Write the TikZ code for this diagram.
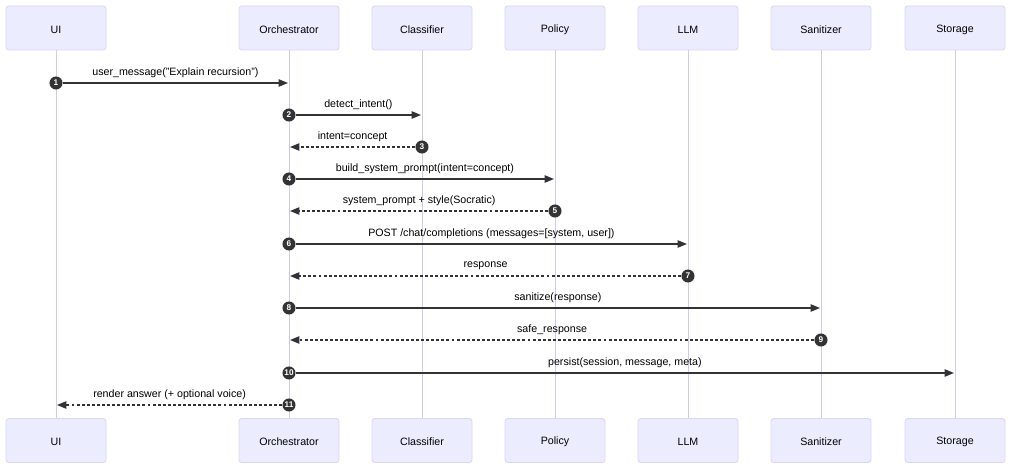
\documentclass[tikz,border=0pt]{standalone}
\usepackage{fontspec}
\setmainfont{Liberation Sans}
\usetikzlibrary{arrows.meta}
\definecolor{actfill}{HTML}{ECECFF}
\definecolor{actdraw}{HTML}{DCD5F5}
\definecolor{lifecol}{HTML}{D3C8F0}
\definecolor{msgcol}{HTML}{333333}
\begin{document}
\begin{tikzpicture}[x=0.75pt,y=-0.75pt,
  actor/.style={draw=actdraw,fill=actfill,rounded corners=2pt,line width=0.6pt,
    minimum width=75pt,minimum height=33pt,inner sep=0pt,
    font=\fontsize{8}{10}\selectfont,text=black},
  actortext/.style={font=\fontsize{8}{10}\selectfont,text=black,inner sep=0pt},
  lifeline/.style={draw=lifecol,line width=0.75pt},
  badge/.style={circle,fill=msgcol,text=white,inner sep=0pt,minimum size=9.8pt,
    font=\fontsize{6.2}{6}\selectfont\bfseries},
  sync/.style={draw=msgcol,line width=1pt,-{Triangle[length=7pt,width=5.5pt]}},
  reply/.style={sync,dash pattern=on 2.2pt off 1.6pt},
  lbl/.style={font=\fontsize{8}{10}\selectfont,text=black,midway,yshift=8pt,inner sep=0pt}
]
\useasboundingbox (0,0) rectangle (1010,467);
% actors
\foreach \n/\x/\t in {ui/56/UI,or/289/Orchestrator,cl/422/Classifier,po/555/Policy,ll/688/LLM,sa/821/Sanitizer,st/955/Storage}{
  \node[actor] (\n T) at (\x,28) {};
  \node[actortext] at (\x,29.5) {\t};
  \node[actor] (\n B) at (\x,440.5) {};
  \node[actortext] at (\x,442) {\t};
  \draw[lifeline] (\n T) -- (\n B);
}
% messages
\node[badge] (b1) at (56,83) {1};
\coordinate (e1) at (288,83);
\draw[sync] (b1) -- node[lbl] {user\_message("Explain recursion")} (e1);

\node[badge] (b2) at (289,115) {2};
\coordinate (e2) at (421,115);
\draw[sync] (b2) -- node[lbl] {detect\_intent()} (e2);

\node[badge] (b3) at (422,147) {3};
\coordinate (e3) at (290,147);
\draw[reply] (b3) -- node[lbl] {intent=concept} (e3);

\node[badge] (b4) at (289,179) {4};
\coordinate (e4) at (554,179);
\draw[sync] (b4) -- node[lbl] {build\_system\_prompt(intent=concept)} (e4);

\node[badge] (b5) at (555,211) {5};
\coordinate (e5) at (290,211);
\draw[reply] (b5) -- node[lbl] {system\_prompt + style(Socratic)} (e5);

\node[badge] (b6) at (289,244) {6};
\coordinate (e6) at (687,244);
\draw[sync] (b6) -- node[lbl] {POST /chat/completions (messages=[system, user])} (e6);

\node[badge] (b7) at (688,276) {7};
\coordinate (e7) at (290,276);
\draw[reply] (b7) -- node[lbl] {response} (e7);

\node[badge] (b8) at (289,308) {8};
\coordinate (e8) at (820,308);
\draw[sync] (b8) -- node[lbl] {sanitize(response)} (e8);

\node[badge] (b9) at (821,340) {9};
\coordinate (e9) at (290,340);
\draw[reply] (b9) -- node[lbl] {safe\_response} (e9);

\node[badge] (b10) at (289,373) {10};
\coordinate (e10) at (954,373);
\draw[sync] (b10) -- node[lbl] {persist(session, message, meta)} (e10);

\node[badge] (b11) at (289,405) {11};
\coordinate (e11) at (57,405);
\draw[reply] (b11) -- node[lbl] {render answer (+ optional voice)} (e11);
\end{tikzpicture}
\end{document}
